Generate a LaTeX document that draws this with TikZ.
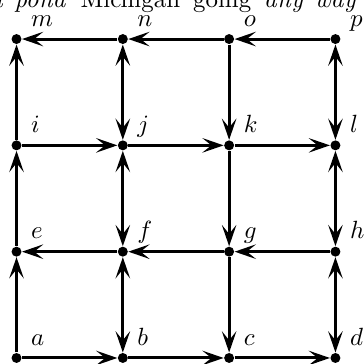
\documentclass[tikz,border=0pt]{standalone}
\usetikzlibrary{arrows.meta}
\begin{document}
\begin{tikzpicture}[
  dot/.style={circle,fill=black,inner sep=0pt,minimum size=4pt},
  lab/.style={anchor=base west,inner sep=0pt},
  captxt/.style={inner sep=0pt},
  tip/.tip={Stealth[length=8.5pt,width=5.8pt,inset=3.6pt]},
  oneway/.style={line width=1.2pt,-tip},
  twoway/.style={line width=1.2pt,tip-tip}
]
\useasboundingbox (-0.233,-0.085) rectangle (4.903,5.051);
\node[captxt,anchor=base west] (cap) at (0.896,4.94)
  {Michigan\hspace{5.2pt}going\hspace{5.2pt}\textit{any\hspace{4.5pt}way}};
\node[captxt,anchor=base east] (cap0) at ([xshift=-5.2pt]cap.base west)
  {\textit{a\hspace{4.6pt}pond}};
\foreach \n/\x/\y in {a/0/0,b/1.5/0,c/3/0,d/4.5/0,
                      e/0/1.5,f/1.5/1.5,g/3/1.5,h/4.5/1.5,
                      i/0/3,j/1.5/3,k/3/3,l/4.5/3,
                      m/0/4.5,n/1.5/4.5,o/3/4.5,p/4.5/4.5}{
  \node[dot] (\n) at (\x,\y) {};
  \path (\n) ++(0.2,0.18) node[lab] (l\n) {$\n$};
}
% horizontal
\draw[oneway] (n) -- (m);
\draw[oneway] (o) -- (n);
\draw[oneway] (p) -- (o);
\draw[oneway] (i) -- (j);
\draw[oneway] (j) -- (k);
\draw[oneway] (k) -- (l);
\draw[oneway] (f) -- (e);
\draw[oneway] (g) -- (f);
\draw[oneway] (h) -- (g);
\draw[oneway] (a) -- (b);
\draw[oneway] (b) -- (c);
\draw[oneway] (c) -- (d);
% vertical
\draw[oneway] (a) -- (e);
\draw[oneway] (e) -- (i);
\draw[oneway] (i) -- (m);
\draw[twoway] (b) -- (f);
\draw[twoway] (f) -- (j);
\draw[twoway] (j) -- (n);
\draw[oneway] (o) -- (k);
\draw[oneway] (k) -- (g);
\draw[oneway] (g) -- (c);
\draw[twoway] (p) -- (l);
\draw[twoway] (l) -- (h);
\draw[twoway] (h) -- (d);
\end{tikzpicture}
\end{document}
